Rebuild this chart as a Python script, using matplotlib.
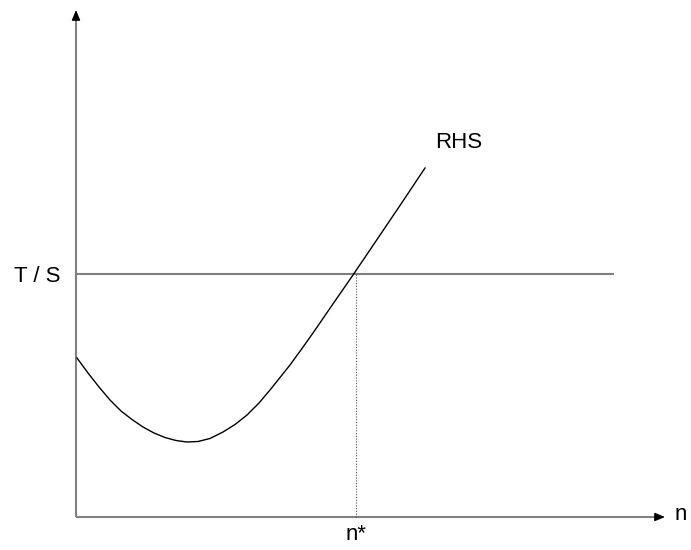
import matplotlib.pyplot as plt

plt.rcParams["font.family"] = ["Liberation Sans", "DejaVu Sans"]

# Curve (origin at the axes corner)
n_vals = [1, 12, 23, 34, 45, 56, 67, 78, 89, 100, 111, 122, 134, 147, 159, 171,
          183, 194, 204, 214, 226, 237, 248, 259, 277, 300, 325, 349]
rhs_vals = [159, 144, 130, 117, 106, 97.5, 90, 84, 79.5, 76.5, 75, 75.5, 78.5, 85,
            92.5, 102, 114, 127, 139.5, 152, 168.5, 184, 200, 216, 242, 276, 313, 349]

ts_level = 243
n_star = 280
ts_end = 537
x_tip = 589
y_tip = 507

fig = plt.figure(figsize=(6.91, 5.5), dpi=100)
ax = fig.add_axes([0, 0, 1, 1])
ax.set_xlim(-76, 615)
ax.set_ylim(-33, 517)
ax.axis("off")

# Axes with arrows
ax.plot([0, x_tip - 8], [0, 0], color="#808080", lw=1.5, solid_capstyle="butt")
ax.plot([0, 0], [0, y_tip - 8], color="#808080", lw=1.5, solid_capstyle="butt")
arrow = dict(arrowstyle="-|>,head_length=0.6,head_width=0.25", color="black",
             lw=1, shrinkA=0, shrinkB=0)
ax.annotate("", xy=(x_tip, 0), xytext=(x_tip - 9, 0), arrowprops=arrow)
ax.annotate("", xy=(0, y_tip), xytext=(0, y_tip - 9), arrowprops=arrow)

# T / S line
ax.plot([0, ts_end], [ts_level, ts_level], color="#808080", lw=1.5)

# RHS curve
ax.plot(n_vals, rhs_vals, color="black", lw=1)

# n* dotted line
ax.plot([n_star, n_star], [0, ts_level], color="#555555", lw=0.8, ls=(0, (1, 1.5)))

# Labels
ax.text(-39, ts_level - 3, "T / S", fontsize=16, ha="center", va="center")
ax.text(359, 374, "RHS", fontsize=16, ha="left", va="center")
ax.text(n_star, -17, "n*", fontsize=16, ha="center", va="center")
ax.text(605, 2, "n", fontsize=16, ha="center", va="center")

fig.savefig("out.png", dpi=100)
